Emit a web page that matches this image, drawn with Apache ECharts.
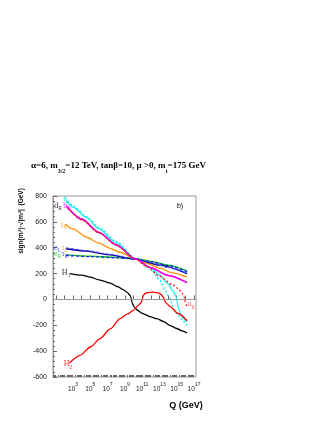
<!DOCTYPE html>
<html>
<head>
<meta charset="utf-8">
<script src="https://cdn.jsdelivr.net/npm/echarts@6/dist/echarts.min.js"></script>
<style>html,body{margin:0;padding:0;background:#fff;}#chart{width:327px;height:423px;}</style>
</head>
<body>
<div id="chart"></div>
<script>
// x = log10(Q/GeV), y = sign(m^2) * sqrt|m^2| in GeV
const xLabelPowers = [3, 5, 7, 9, 11, 13, 15, 17];

const h1Q = [2.65, 4, 5, 6, 7.3, 8.2, 8.82, 9.3, 9.6, 9.7, 9.75, 9.8, 9.9, 10.1, 10.37, 11, 12, 12.7, 13.5, 14.2, 15, 15.6, 16.2];
const h1M = [200, 188, 172, 152, 126, 98, 76, 52, 31, 16, 0, -18, -35, -60, -80, -108, -135, -149, -172, -200, -225, -243, -260];

const h2Q = [2.57, 3.81, 5, 6.13, 7.3, 8.44, 9.3, 9.98, 10.56, 10.8, 10.95, 11.0, 11.05, 11.14, 11.3, 11.6, 12.3, 12.9, 13.2, 13.4, 13.5, 13.55, 13.62, 13.8, 14.23, 15.15, 16.2];
const h2M = [-492, -432, -368, -303, -228, -149, -112, -85, -46, -30, -15, 0, 18, 31, 44, 53, 56, 50, 38, 22, 10, 0, -14, -30, -55, -109, -165];

const tLQ = [2.07, 3, 4.58, 6, 8, 10.2, 11.9, 13.07, 13.65, 14, 14.2, 14.3, 14.36, 14.5, 14.8, 15.2, 15.7, 16.2];
const tLM = [787, 725, 640, 555, 448, 320, 239, 147, 69, 30, 12, 0, -22, -50, -90, -125, -165, -200];

const uLQ = [2.2, 3, 4.58, 6, 8, 10.2, 11.9, 13, 14, 14.5, 14.8, 14.95, 15.0, 15.05, 15.2, 15.5, 15.8, 16.2];
const uLM = [760, 712, 632, 545, 436, 316, 250, 190, 120, 70, 40, 15, 0, -25, -70, -120, -150, -175];

const uRQ = [2.4, 4, 6, 8, 10.2, 11.5, 13, 14.5, 15.2, 15.6, 15.85, 15.95, 16.0, 16.1, 16.2];
const uRM = [705, 615, 515, 420, 314, 255, 180, 115, 83, 50, 20, 0, -25, -42, -54];

const bRQ = [2.19, 4, 6, 8, 10.2, 12, 14, 16.2];
const bRM = [726, 625, 520, 422, 314, 245, 185, 129];

const dRQ = [2.3, 4, 6, 8, 10.2, 12, 14, 16.2];
const dRM = [715, 620, 517, 421, 314, 246, 186, 131];

const tRQ = [2.07, 3, 4.58, 6, 7.3, 8.44, 10.2, 11.5, 13, 14.5, 16.2];
const tRM = [584, 545, 481, 435, 395, 365, 314, 280, 242, 205, 172];

const eLQ = [2.2, 4.58, 7, 10.2, 12, 14, 16.2];
const eLM = [398, 378, 350, 314, 285, 248, 203];

const tauLQ = [2.2, 4.58, 7, 10.2, 13, 16.2];
const tauLM = [392, 373, 346, 312, 265, 200];

const eRQ = [2.2, 5, 8, 10.2, 12, 14, 16.2];
const eRM = [345, 335, 325, 316, 295, 265, 219];

const tauRQ = [2.2, 5, 8, 10.2, 12, 14, 16.2];
const tauRM = [340, 331, 322, 313, 292, 262, 214];

// curve labels
const labelText = ['d', 'b', 't', 't', 'e', 'τ', 'e', 'τ', 'H', 'H', 'u'];
const labelSub = ['R', 'R', 'L', 'R', 'L', 'L', 'R', 'R', '1', '2', 'R'];
const labelQ = [1.26, 2.3, 2.2, 1.96, 1.2, 2.05, 1.2, 2.05, 2.2, 2.42, 16.65];
const labelM = [716, 716, 770, 571, 394, 394, 347, 347, 200, -510, -46];
const labelColor = ['#000', '#ff00ff', '#00e0e0', '#ff8c00', '#2020ff', '#c89050', '#00cc00', '#2020ff', '#000', '#ff0000', '#ff4040'];

function pairs(q, m) {
    return q.map((x, i) => [x, m[i]]);
}

function curve(name, q, m, color, type) {
    return {
        name: name,
        type: 'line',
        data: pairs(q, m),
        showSymbol: false,
        smooth: 0.25,
        smoothMonotone: 'x',
        lineStyle: { color: color, width: 1.3, type: type || 'solid' },
        z: 3
    };
}

let minorTicks = [];
for (let d = 0; d <= 17; d++) {
    for (let k = 2; k <= 9; k++) {
        let v = d + Math.log10(k);
        if (v > 0.68 && v < 17.23) minorTicks.push(v);
    }
}
let majorTicks = [];
for (let d = 1; d <= 17; d++) majorTicks.push(d);

let labelData = labelText.map((t, i) => ({
    value: [labelQ[i], labelM[i]],
    label: { color: labelColor[i], formatter: '{m|' + t + '}{s|' + labelSub[i] + '}' }
}));

let myChart = echarts.init(document.getElementById('chart'));
myChart.setOption({
    animation: false,
    title: {
        text: '{t|α=6, m}{s|3/2}{t|=12 TeV, tanβ=10, μ >0, m}{s|t}{t|=175 GeV}',
        left: 31,
        top: 161,
        padding: 0,
        textStyle: {
            rich: {
                t: { fontFamily: 'Liberation Serif', fontWeight: 'bold', fontSize: 9, color: '#000', lineHeight: 13, verticalAlign: 'top' },
                s: { fontFamily: 'Liberation Serif', fontWeight: 'bold', fontSize: 6, color: '#000', lineHeight: 13, verticalAlign: 'bottom' }
            }
        }
    },
    grid: {
        left: 53, right: 131, top: 196, bottom: 46,
        show: true, borderColor: '#999', borderWidth: 1
    },
    xAxis: [{
        type: 'value',
        min: 0.68,
        max: 17.23,
        axisLine: { lineStyle: { color: '#999' } },
        splitLine: { show: false },
        axisTick: { inside: true, length: 4, lineStyle: { color: '#666' }, customValues: majorTicks },
        axisLabel: {
            customValues: xLabelPowers,
            margin: 5,
            formatter: v => '{b|10}{s|' + v + '}',
            rich: {
                b: { fontFamily: 'Liberation Sans', fontSize: 6.5, color: '#222', lineHeight: 11, verticalAlign: 'bottom' },
                s: { fontFamily: 'Liberation Sans', fontSize: 5, color: '#222', lineHeight: 11, verticalAlign: 'top' }
            }
        }
    }, {
        type: 'value',
        min: 0.68,
        max: 17.23,
        position: 'bottom',
        axisLine: { show: false },
        splitLine: { show: false },
        axisLabel: { show: false },
        axisTick: { inside: true, length: 2, lineStyle: { color: '#666' }, customValues: minorTicks }
    }],
    yAxis: {
        type: 'value',
        min: -600,
        max: 800,
        interval: 200,
        axisLine: { show: true, lineStyle: { color: '#999' } },
        splitLine: { show: false },
        axisTick: { inside: true, length: 4, lineStyle: { color: '#666' } },
        minorTick: { show: true, splitNumber: 5, length: 2, lineStyle: { color: '#666' } },
        axisLabel: { fontFamily: 'Liberation Sans', fontSize: 7, color: '#222', margin: 6 }
    },
    graphic: [{
        type: 'text',
        x: 21, y: 221,
        rotation: Math.PI / 2,
        style: {
            text: 'sign(mᵢ²)·√|mᵢ²|  (GeV)',
            font: 'bold 6.5px "Liberation Sans"',
            fill: '#000',
            textAlign: 'center',
            textVerticalAlign: 'middle'
        }
    }, {
        type: 'text',
        x: 186, y: 406,
        style: {
            text: 'Q (GeV)',
            font: 'bold 9px "Liberation Sans"',
            fill: '#000',
            textAlign: 'center',
            textVerticalAlign: 'middle'
        }
    }, {
        type: 'text',
        x: 180, y: 206,
        style: {
            text: 'b)',
            font: '7px "Liberation Sans"',
            fill: '#000',
            textAlign: 'center',
            textVerticalAlign: 'middle'
        }
    }],
    series: [
        curve('tL', tLQ, tLM, '#00e8e8', [2, 2]),
        curve('uL', uLQ, uLM, '#20f0f0'),
        curve('tR', tRQ, tRM, '#ff8c00'),
        curve('eR', eRQ, eRM, '#00cc00'),
        curve('tauR', tauRQ, tauRM, '#2020ff', [3, 2]),
        curve('tauL', tauLQ, tauLM, '#000080'),
        curve('eL', eLQ, eLM, '#4040ff', [3, 2]),
        curve('dR', dRQ, dRM, '#800080'),
        curve('bR', bRQ, bRM, '#ff00ff'),
        curve('uR', uRQ, uRM, '#ff2020', [2, 2]),
        Object.assign(curve('H1', h1Q, h1M, '#000'), {
            markLine: {
                silent: true,
                symbol: 'none',
                label: { show: false },
                lineStyle: { color: '#999', type: 'solid', width: 1 },
                data: [{ yAxis: 0 }]
            }
        }),
        curve('H2', h2Q, h2M, '#ff0000'),
        {
            type: 'scatter',
            symbolSize: 0,
            data: labelData,
            z: 5,
            label: {
                show: true,
                position: 'inside',
                rich: {
                    m: { fontFamily: 'Liberation Serif', fontSize: 8, lineHeight: 10, verticalAlign: 'top' },
                    s: { fontFamily: 'Liberation Serif', fontSize: 5.5, lineHeight: 10, verticalAlign: 'bottom' }
                }
            }
        }
    ]
});
</script>
</body>
</html>
